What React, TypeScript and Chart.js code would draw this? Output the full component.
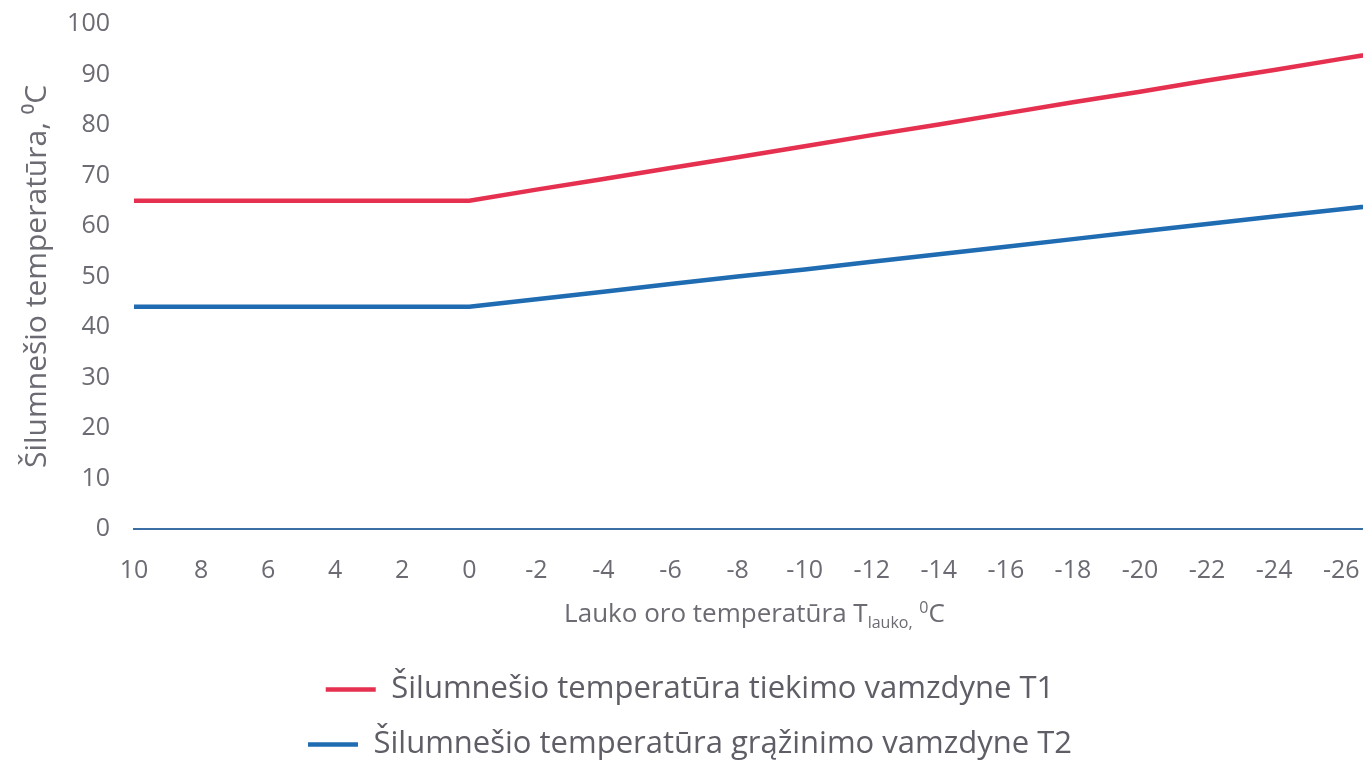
import React, { useEffect, useRef } from 'react';
import { Chart, registerables } from 'chart.js';

Chart.register(...registerables);

// Outdoor air temperature categories (°C)
const outdoorTemps = [10, 8, 6, 4, 2, 0, -2, -4, -6, -8, -10, -12, -14, -16, -18, -20, -22, -24, -26, -28];
// Supply pipe temperature T1 (°C)
const supplyT1 = [65, 65, 65, 65, 65, 65, 67.2, 69.3, 71.5, 73.6, 75.8, 78.0, 80.1, 82.3, 84.5, 86.6, 88.8, 90.9, 93.1, 95.2];
// Return pipe temperature T2 (°C)
const returnT2 = [44, 44, 44, 44, 44, 44, 45.5, 47.0, 48.5, 50.0, 51.4, 52.9, 54.4, 55.9, 57.4, 58.9, 60.4, 61.9, 63.3, 64.8];

const seriesNames = [
  'Šilumnešio temperatūra tiekimo vamzdyne T1',
  'Šilumnešio temperatūra grąžinimo vamzdyne T2',
];
const yAxisTitle = 'Šilumnešio temperatūra, ⁰C';
const xTitleMain = 'Lauko oro temperatūra T';
const xTitleSub = 'lauko,';
const xTitleSup = '0';
const xTitleEnd = 'C';

const FONT = '"Open Sans", "DejaVu Sans", sans-serif';
const GRAY = '#6b6b73';

const xTitlePlugin = {
  id: 'xTitleWithSubscript',
  afterDraw(chart: any) {
    const { ctx, chartArea } = chart;
    const xs = chart.scales.x;
    const baseline = xs.top + 93;
    const big = 26;
    const small = 16;
    const parts = [
      { t: xTitleMain, size: big, dy: 0 },
      { t: xTitleSub, size: small, dy: 6 },
      { t: ' ', size: big, dy: 0 },
      { t: xTitleSup, size: small, dy: -9 },
      { t: xTitleEnd, size: big, dy: 0 },
    ];
    ctx.save();
    let total = 0;
    for (const p of parts) {
      ctx.font = `${p.size}px ${FONT}`;
      total += ctx.measureText(p.t).width;
    }
    let x = (chartArea.left + chartArea.right) / 2 + 6 - total / 2;
    ctx.fillStyle = GRAY;
    ctx.textBaseline = 'alphabetic';
    ctx.textAlign = 'left';
    for (const p of parts) {
      ctx.font = `${p.size}px ${FONT}`;
      ctx.fillText(p.t, x, baseline + p.dy);
      x += ctx.measureText(p.t).width;
    }
    ctx.restore();
  },
};

export default function App() {
  const canvasRef = useRef<HTMLCanvasElement | null>(null);

  useEffect(() => {
    document.body.style.margin = '0';
    document.documentElement.style.overflow = 'hidden';
    const canvas = canvasRef.current;
    if (!canvas) return;

    const chart = new Chart(canvas, {
      type: 'line',
      data: {
        datasets: [
          {
            label: seriesNames[0],
            data: outdoorTemps.map((t, i) => ({ x: t, y: supplyT1[i] })),
            borderColor: '#e6304f',
            backgroundColor: '#e6304f',
            borderWidth: 4.5,
            pointRadius: 0,
            tension: 0,
          },
          {
            label: seriesNames[1],
            data: outdoorTemps.map((t, i) => ({ x: t, y: returnT2[i] })),
            borderColor: '#1f6cb3',
            backgroundColor: '#1f6cb3',
            borderWidth: 4.5,
            pointRadius: 0,
            tension: 0,
          },
        ],
      },
      options: {
        responsive: false,
        maintainAspectRatio: false,
        animation: false,
        layout: { padding: { left: 17, right: 0, top: 24, bottom: -3 } },
        plugins: {
          tooltip: { enabled: false },
          legend: {
            position: 'bottom',
            labels: {
              usePointStyle: true,
              pointStyle: 'line',
              pointStyleWidth: 50,
              boxWidth: 50,
              boxHeight: 4,
              padding: 24,
              color: '#5e5e66',
              font: { family: FONT, size: 31 },
            },
          },
        },
        scales: {
          x: {
            type: 'linear',
            reverse: true,
            min: -26.65,
            max: 10,
            grid: { display: false, drawTicks: false },
            border: { display: true, color: '#3b6ea5', width: 2 },
            ticks: {
              stepSize: 2,
              includeBounds: false,
              padding: 27,
              color: GRAY,
              font: { family: FONT, size: 25 },
              callback: (v: any) => String(v),
            },
            afterFit: (scale: any) => {
              scale.height = 121;
              scale.paddingLeft = 0;
              scale.paddingRight = 0;
            },
          },
          y: {
            min: 0,
            max: 100,
            grid: { display: false, drawTicks: false },
            border: { display: false },
            ticks: {
              stepSize: 10,
              padding: 24,
              color: GRAY,
              font: { family: FONT, size: 25 },
            },
            title: {
              display: true,
              text: yAxisTitle,
              color: GRAY,
              padding: { top: 2, bottom: 2 },
              font: { family: FONT, size: 30 },
            },
            afterFit: (scale: any) => {
              scale.width = 134 - 17;
              scale.paddingTop = 0;
              scale.paddingBottom = 0;
            },
          },
        },
      },
      plugins: [xTitlePlugin],
    });

    return () => chart.destroy();
  }, []);

  return (
    <div style={{ width: 1363, height: 767, overflow: 'hidden', background: '#ffffff' }}>
      <canvas ref={canvasRef} width={1363} height={767} style={{ display: 'block' }} />
    </div>
  );
}
